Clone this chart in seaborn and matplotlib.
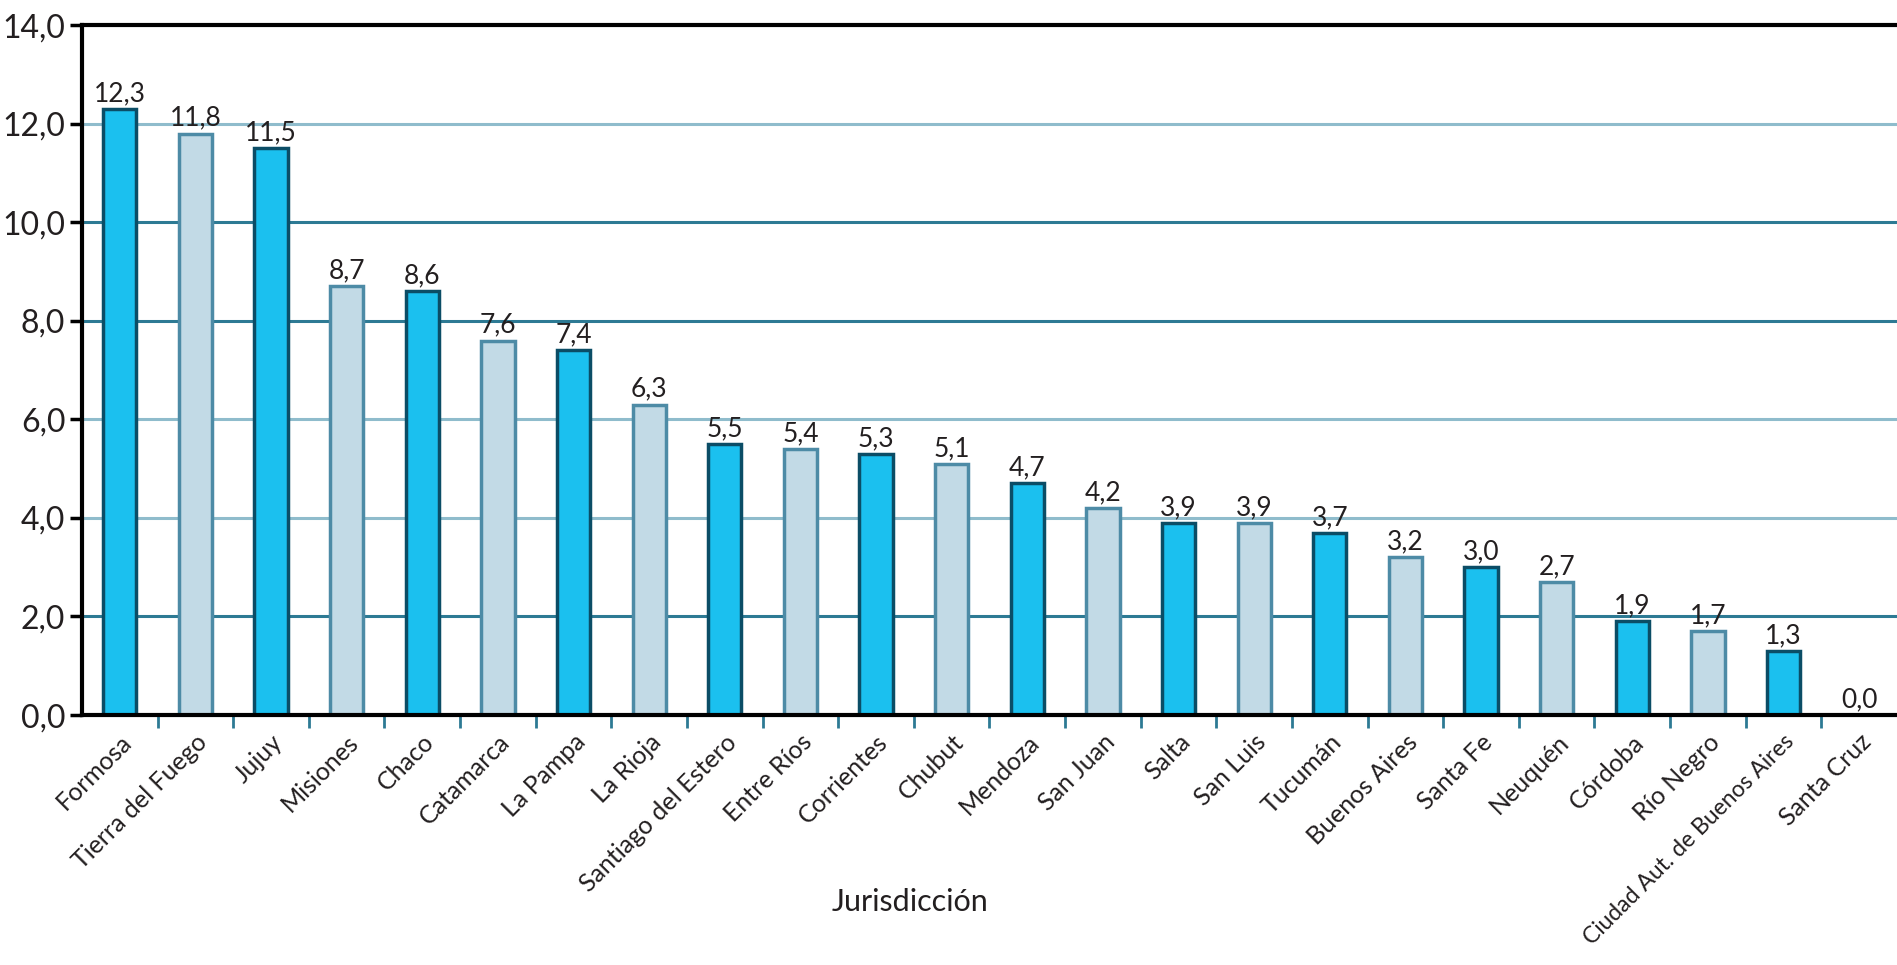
import matplotlib
matplotlib.use("Agg")
import matplotlib.pyplot as plt
from matplotlib.ticker import FixedLocator, FuncFormatter
import seaborn as sns
import pandas as pd

jurisdicciones = [
    "Formosa", "Tierra del Fuego", "Jujuy", "Misiones", "Chaco", "Catamarca",
    "La Pampa", "La Rioja", "Santiago del Estero", "Entre Ríos", "Corrientes",
    "Chubut", "Mendoza", "San Juan", "Salta", "San Luis", "Tucumán",
    "Buenos Aires", "Santa Fe", "Neuquén", "Córdoba", "Río Negro",
    "Ciudad Aut. de Buenos Aires", "Santa Cruz",
]
valores = [
    12.3, 11.8, 11.5, 8.7, 8.6, 7.6, 7.4, 6.3, 5.5, 5.4, 5.3, 5.1,
    4.7, 4.2, 3.9, 3.9, 3.7, 3.2, 3.0, 2.7, 1.9, 1.7, 1.3, 0.0,
]
y_ticks = [0, 2, 4, 6, 8, 10, 12, 14]

grupo = ["a" if i % 2 == 0 else "b" for i in range(len(jurisdicciones))]
df = pd.DataFrame({"jurisdiccion": jurisdicciones, "valor": valores, "grupo": grupo})

sns.set_theme(style="white")
plt.rcParams["font.family"] = ["Lato", "DejaVu Sans"]

fill = {"a": "#1bc0ef", "b": "#c2dae6"}
edge = {"a": "#0b4d66", "b": "#4d8ba6"}
text_color = "#231f20"

fig = plt.figure(figsize=(18.97, 9.65), dpi=100)
ax = fig.add_axes([0.0432, 0.259, 0.9568, 0.715])

# horizontal reference lines, alternating shade
grid_colors = {2: "#2d7a94", 4: "#8fbccc", 6: "#8fbccc", 8: "#2d7a94", 10: "#2d7a94", 12: "#8fbccc"}
for v, c in grid_colors.items():
    ax.axhline(v, color=c, lw=2.2, zorder=0)

sns.barplot(data=df, x="jurisdiccion", y="valor", hue="grupo", palette=fill,
            saturation=1, dodge=False, width=0.44, legend=False, ax=ax, zorder=2)

for cont, g in zip(ax.containers, ["a", "b"]):
    for p in cont:
        p.set_edgecolor(edge[g])
        p.set_linewidth(2.5)
    labs = [f"{v:.1f}".replace(".", ",") if not pd.isna(v) else "" for v in cont.datavalues]
    ax.bar_label(cont, labels=labs, padding=2, fontsize=19, color=text_color)

ax.set_xlim(-0.5, len(jurisdicciones) - 0.5)
ax.set_ylim(0, 14)
ax.set_yticks(y_ticks)
ax.yaxis.set_major_formatter(FuncFormatter(lambda v, _: f"{v:.1f}".replace(".", ",")))
ax.tick_params(axis="y", which="major", left=True, length=9, width=2.5, color="black",
               labelsize=23, labelcolor=text_color, pad=3)

ax.set_xticks(range(len(jurisdicciones)))
ax.set_xticklabels(jurisdicciones, rotation=45, ha="right", rotation_mode="anchor",
                   fontsize=18, color=text_color)
ax.tick_params(axis="x", which="major", bottom=False, pad=5)
# the longest name is set a touch smaller so it stays inside the figure
for lab in ax.get_xticklabels():
    if len(lab.get_text()) > 20:
        lab.set_fontsize(16.5)
ax.xaxis.set_minor_locator(FixedLocator([i + 0.5 for i in range(len(jurisdicciones) - 1)]))
ax.tick_params(axis="x", which="minor", bottom=True, length=9, width=2, color="#2d7a94")

ax.set_xlabel("Jurisdicción", fontsize=22, color=text_color)
ax.xaxis.set_label_coords(0.456, -0.25)
ax.set_ylabel("")

for side in ["left", "bottom", "top"]:
    ax.spines[side].set_visible(True)
    ax.spines[side].set_color("black")
    ax.spines[side].set_linewidth(3)
ax.spines["right"].set_visible(False)

fig.savefig("out.png", dpi=100)
